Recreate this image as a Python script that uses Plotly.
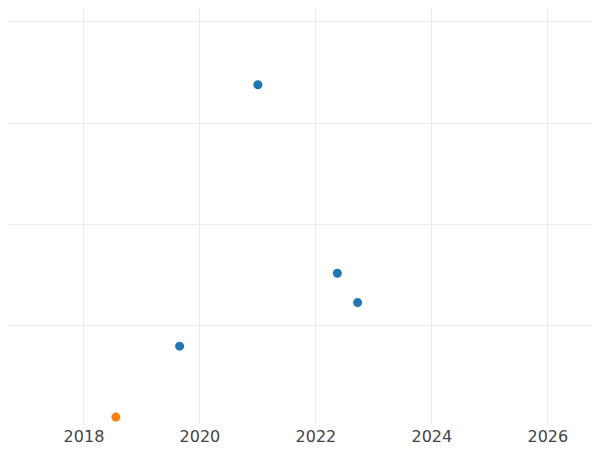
import plotly.graph_objects as go

# blue series
blue_x = [2021.0, 2022.37, 2022.72, 2019.65]
blue_y = [3.38, 1.52, 1.23, 0.80]
# orange series
orange_x = [2018.55]
orange_y = [0.10]

fig = go.Figure()
fig.add_trace(go.Scatter(x=blue_x, y=blue_y, mode="markers",
                         marker=dict(color="#1f77b4", size=9)))
fig.add_trace(go.Scatter(x=orange_x, y=orange_y, mode="markers",
                         marker=dict(color="#ff7f0e", size=9)))

fig.update_layout(
    width=592, height=442,
    margin=dict(l=0, r=0, t=0, b=25),
    plot_bgcolor="white", paper_bgcolor="white",
    showlegend=False,
    font=dict(family="DejaVu Sans", size=16, color="#444"),
)
fig.update_xaxes(range=[2016.69, 2026.9], dtick=2, showgrid=True,
                 gridcolor="#ebebeb", zeroline=False, ticks="")
fig.update_yaxes(range=[0.022, 4.138], tickvals=[1, 2, 3, 4], showticklabels=False,
                 showgrid=True, gridcolor="#ebebeb", zeroline=False)

fig.write_html("out.html")
